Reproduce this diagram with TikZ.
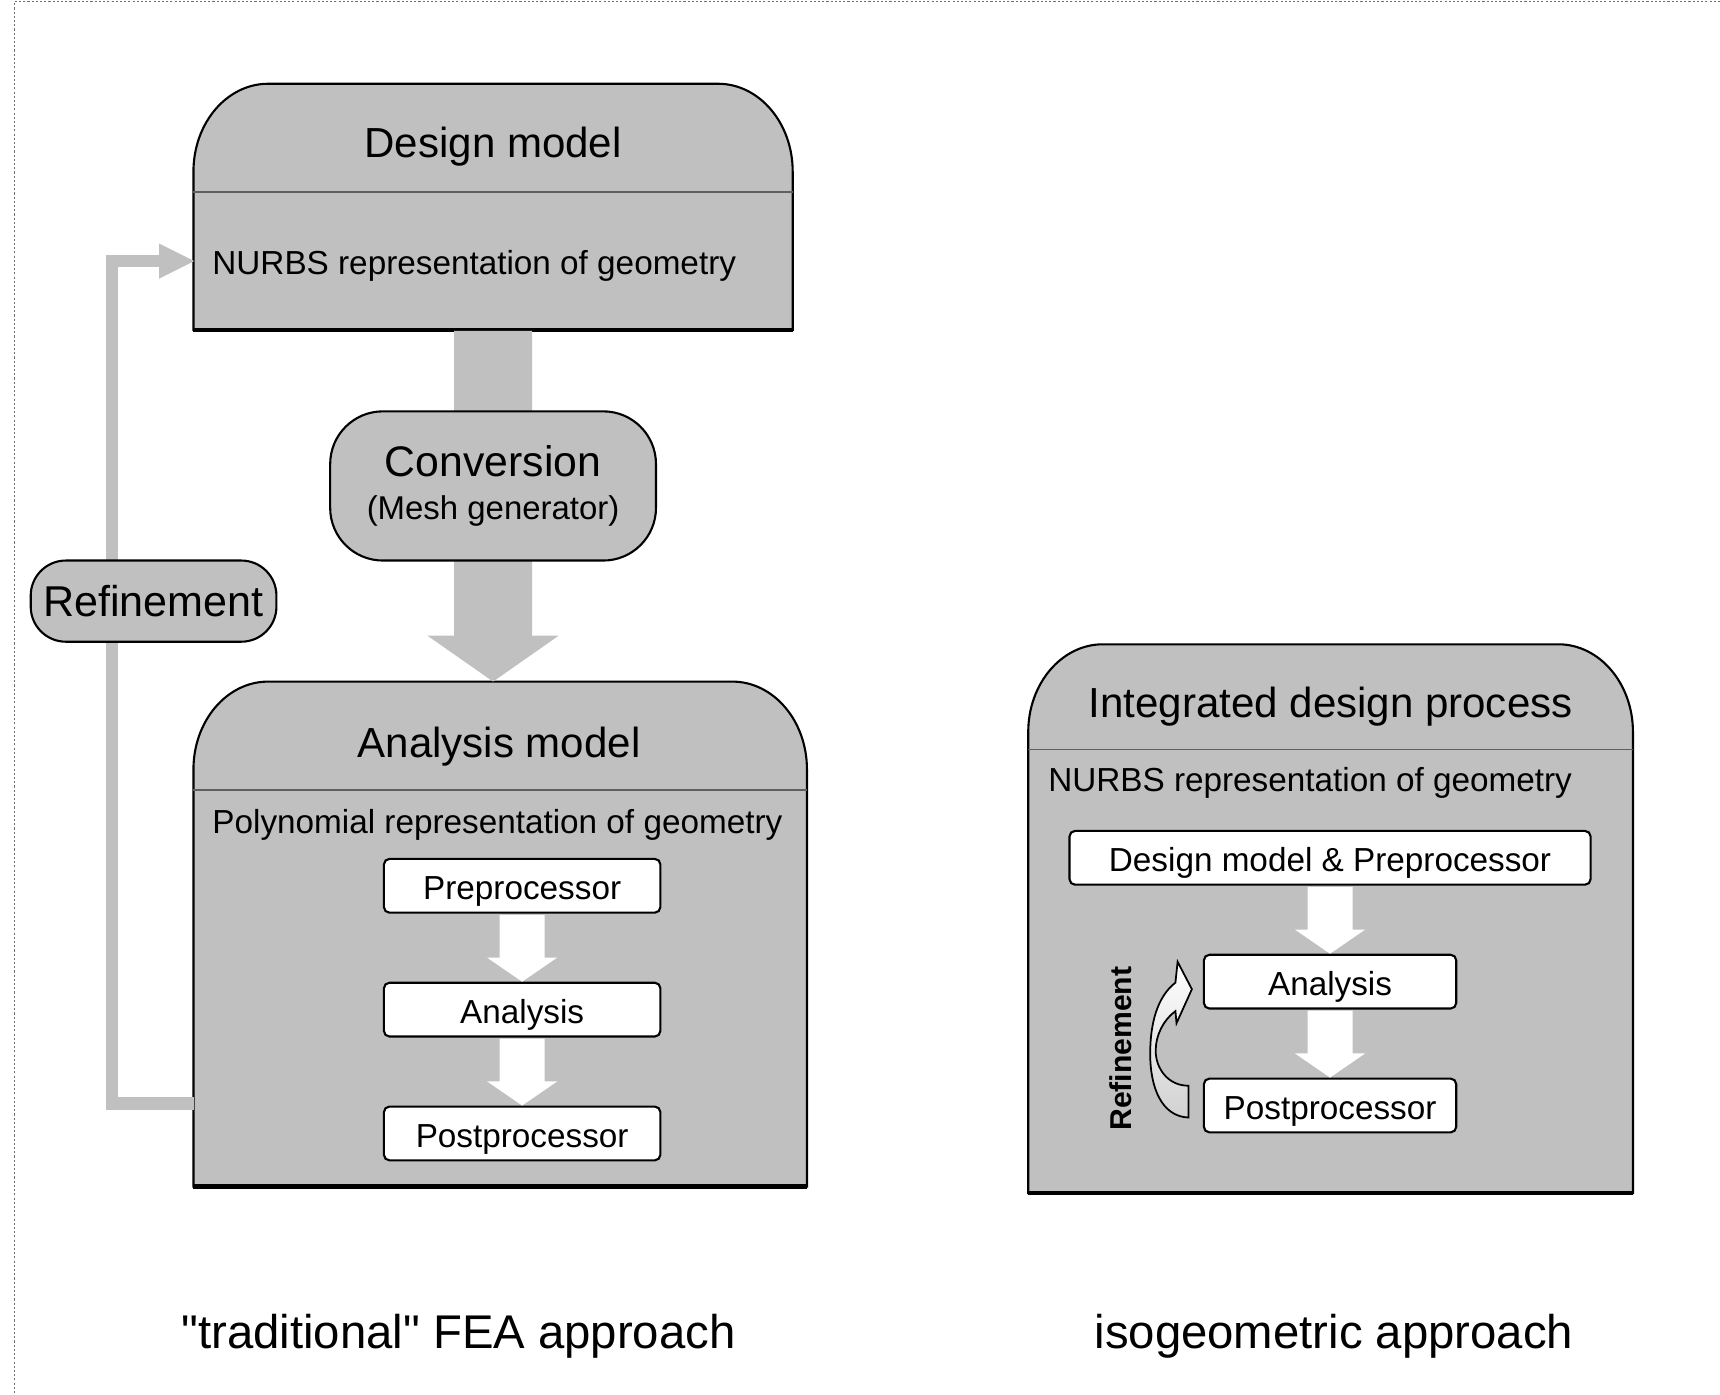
\documentclass[tikz,border=0pt]{standalone}
\usepackage{fontspec}
\setmainfont{Liberation Sans}[Ligatures=TeXOff]
\usepackage{tikz}
\usetikzlibrary{calc}
\usetikzlibrary{positioning}
\definecolor{panelgray}{RGB}{192,192,192}
\definecolor{rulegray}{RGB}{95,95,95}
\definecolor{bordergray}{RGB}{110,110,110}
\newlength\pxu
\setlength\pxu{0.011cm}
% panel with rounded top corners, a header rule and a heavier foot
\newcommand{\drawpanel}[2]{%
  \draw[panel] (#1.south west) -- ($(#1.north west)+(0,-80)$)
      arc[start angle=180, end angle=90, x radius=68, y radius=80]
      -- ($(#1.north east)+(-68,0)$)
      arc[start angle=90, end angle=0, x radius=68, y radius=80]
      -- (#1.south east) -- cycle;
  \draw[rulegray, line width=0.5pt] ($(#1.north west)+(0,-#2)$) -- ($(#1.north east)+(0,-#2)$);
  \draw[line width=1.2pt] (#1.south west) -- (#1.south east);}
% block arrow: from, tip, half shaft, half head, head length, colour
\newcommand{\blockarrow}[6]{%
  \fill[#6] ($(#1)+(-#3,-1)$) -- ($(#2)+(-#3,#5)$) -- ($(#2)+(-#4,#5)$) -- (#2)
      -- ($(#2)+(#4,#5)$) -- ($(#2)+(#3,#5)$) -- ($(#1)+(#3,-1)$) -- cycle;}

\begin{document}
\begin{tikzpicture}[x=0.011cm, y=0.011cm,
    panel/.style={draw=black, fill=panelgray, line width=0.6pt},
    frame/.style 2 args={minimum width=#1*\pxu, minimum height=#2*\pxu, inner sep=0pt},
    title/.style={font=\fontsize{12}{14}\selectfont, inner sep=0pt},
    subtitle/.style={font=\fontsize{9.5}{11}\selectfont, inner sep=0pt, anchor=west},
    stepbox/.style={draw=black, fill=white, line width=0.6pt, rounded corners=5*\pxu,
                    minimum height=49*\pxu, inner sep=0pt, text height=0.99em, text depth=0.21em,
                    font=\fontsize{9.5}{11}\selectfont},
    pill/.style={draw=black, fill=panelgray, line width=0.6pt, inner sep=0pt},
    feedback/.style={draw=panelgray, line width=11*\pxu},
    caption/.style={font=\fontsize{13.5}{16}\selectfont, inner sep=0pt},
    node distance=19.4pt]
  \useasboundingbox (0,0) rectangle (1568,-1271);
  \draw[bordergray, line width=0.4pt, dash pattern=on 0.6pt off 0.6pt] (1568,-1.5) -- (13,-1.5) -- (13,-1271);

  % traditional FEA approach
  \node[frame={545}{223}] (design) at (449.5,-188.5) {};
  \node[frame={558}{459}] (anamodel) at (456,-851.5) {};
  \drawpanel{design}{99}
  \drawpanel{anamodel}{99}
  \node[title] (designtitle) at (449.5,-134) {Design model};
  \node[subtitle] (designgeo) at (193,-242) {NURBS representation of geometry};
  \node[title] (anatitle) at (455,-681) {Analysis model};
  \node[subtitle] (anageo) at (193,-752) {Polynomial representation of geometry};

  \coordinate (convtip) at (design.south |- anamodel.north);
  \blockarrow{design.south}{convtip}{35.5}{60}{42}{panelgray}
  \node[pill, minimum width=297*\pxu, minimum height=136*\pxu, rounded corners=48*\pxu, align=center,
        font=\fontsize{9.4}{12.4}\selectfont] (conv) at (449.5,-443)
        {{\fontsize{12.2}{13}\selectfont Conversion}\\(Mesh generator)};

  \coordinate (loopfoot) at (177,-1006);
  \coordinate (loophead) at (177,-238);
  \draw[feedback] (loopfoot) -- ++(-74.5,0) |- ($(loophead)+(-32,0)$);
  \fill[panelgray] (loophead) -- ++(-32,16) -- ++(0,-32) -- cycle;
  \node[pill, minimum width=224*\pxu, minimum height=74*\pxu, rounded corners=32*\pxu,
        font=\fontsize{12.3}{14}\selectfont] (refine) at (140,-548) {Refinement};

  \node[stepbox, minimum width=252*\pxu] (pre) at (476,-807.5) {Preprocessor};
  \node[stepbox, minimum width=252*\pxu, below=of pre] (ana) {Analysis};
  \node[stepbox, minimum width=252*\pxu, below=of ana] (post) {Postprocessor};
  \blockarrow{pre.south}{ana.north}{20.5}{32}{22}{white}
  \blockarrow{ana.south}{post.north}{20.5}{32}{22}{white}

  % isogeometric approach
  \node[frame={550}{499}] (integ) at (1213,-837.5) {};
  \drawpanel{integ}{96}
  \node[title] (integtitle) at (1213,-644) {Integrated design process};
  \node[subtitle] (integgeo) at (955,-714) {NURBS representation of geometry};
  \node[stepbox, minimum width=475*\pxu] (dmp) at (1212.5,-782) {Design model \& Preprocessor};
  \node[stepbox, minimum width=230*\pxu, below=of dmp] (ana2) {Analysis};
  \node[stepbox, minimum width=230*\pxu, below=of ana2] (post2) {Postprocessor};
  \blockarrow{dmp.south}{ana2.north}{20.5}{32}{22}{white}
  \blockarrow{ana2.south}{post2.north}{20.5}{32}{22}{white}

  \begin{scope}[shift={(post2.west)}]
    \draw[line width=0.5pt, top color=white, bottom color=black!18]
      (-13,-11) .. controls (-38,-10) and (-48,17) .. (-48,47)
      .. controls (-48,82) and (-38,102) .. (-25,112)
      -- (-23,131) -- (-10,106) -- (-24,75) -- (-25,86)
      .. controls (-36,78) and (-43,64) .. (-43,50)
      .. controls (-43,34) and (-32,18) .. (-13,18) -- cycle;
  \end{scope}
  \node[rotate=90, inner sep=0pt, font=\bfseries\fontsize{8.6}{10}\selectfont] (refine2) at (1022,-956) {Refinement};

  \node[caption] (feacap) at (418,-1218) {"traditional" FEA approach};
  \node[caption] (isocap) at (1216,-1218) {isogeometric approach};
\end{tikzpicture}
\end{document}
